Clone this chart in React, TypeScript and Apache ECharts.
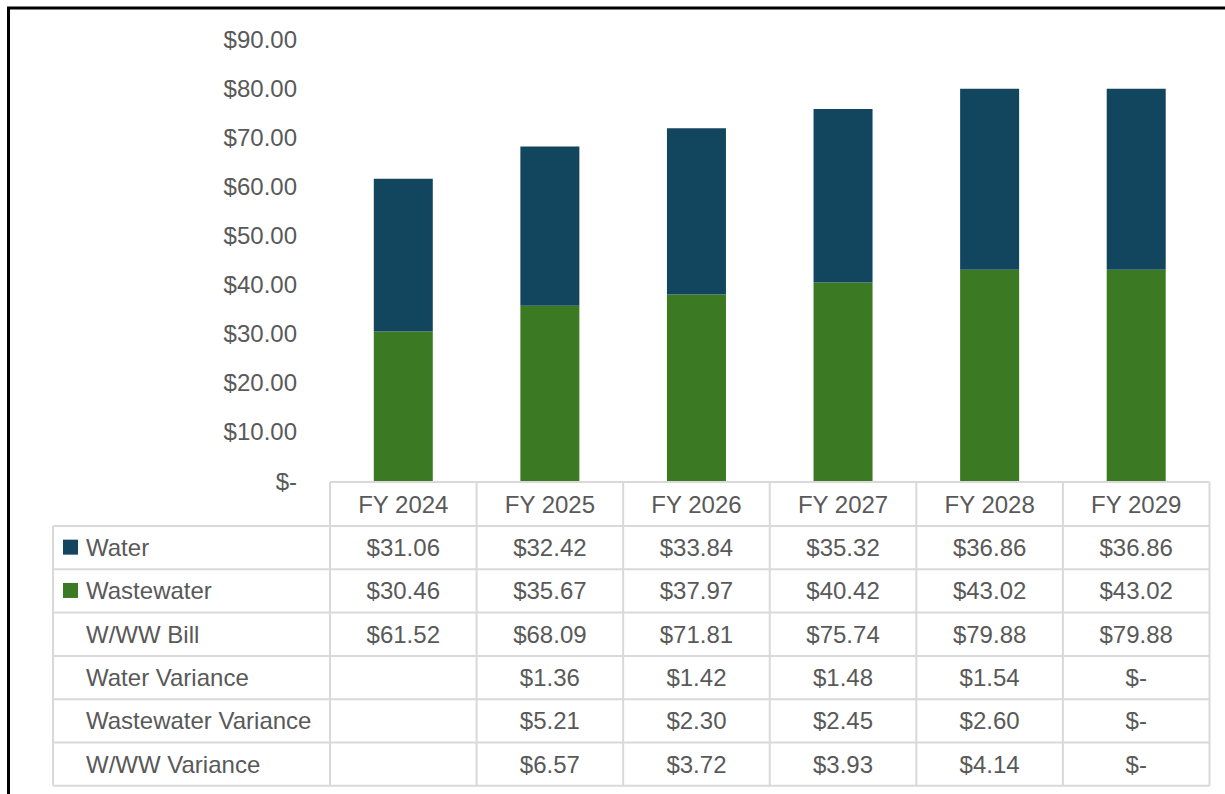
import React, { useEffect, useRef } from "react";
import * as echarts from "echarts";

const categories = ["FY 2024", "FY 2025", "FY 2026", "FY 2027", "FY 2028", "FY 2029"];
const water = [31.06, 32.42, 33.84, 35.32, 36.86, 36.86];
const wastewater = [30.46, 35.67, 37.97, 40.42, 43.02, 43.02];
const bill = [61.52, 68.09, 71.81, 75.74, 79.88, 79.88];
const waterVariance = [null, 1.36, 1.42, 1.48, 1.54, 0];
const wastewaterVariance = [null, 5.21, 2.3, 2.45, 2.6, 0];
const totalVariance = [null, 6.57, 3.72, 3.93, 4.14, 0];
const rowLabels = ["Water", "Wastewater", "W/WW Bill", "Water Variance", "Wastewater Variance", "W/WW Variance"];
const yMin = 0;
const yMax = 90;
const yInterval = 10;

const WATER_COLOR = "#12465F";
const WASTE_COLOR = "#3B7A23";
const TEXT_COLOR = "#595959";
const LINE_COLOR = "#D9D9D9";
const FONT = '"Liberation Sans", Arial, sans-serif';

const fmt = (v: number | null) => (v === null ? "" : v === 0 ? "$-" : "$" + v.toFixed(2));

export default function App() {
  const ref = useRef<HTMLDivElement>(null);
  useEffect(() => {
    document.body.style.margin = "0";
    if (!ref.current) return;
    const chart = echarts.init(ref.current, null, { renderer: "svg" });

    const gridLeft = 330;
    const gridRight = 1209.5;
    const gridTop = 39;
    const gridBottom = 481;
    const colW = (gridRight - gridLeft) / categories.length;
    const tableLeft = 53;
    const headerTop = 482;
    const rowTop = 526;
    const rowH = 43.3;

    const rows = [
      { label: rowLabels[0], values: water, swatch: WATER_COLOR },
      { label: rowLabels[1], values: wastewater, swatch: WASTE_COLOR },
      { label: rowLabels[2], values: bill, swatch: null },
      { label: rowLabels[3], values: waterVariance, swatch: null },
      { label: rowLabels[4], values: wastewaterVariance, swatch: null },
      { label: rowLabels[5], values: totalVariance, swatch: null },
    ];
    const tableBottom = rowTop + rowH * rows.length;

    const g: any[] = [];
    const lineStyle = { stroke: LINE_COLOR, lineWidth: 2 };
    // header top border
    g.push({ type: "line", shape: { x1: gridLeft, y1: headerTop, x2: gridRight, y2: headerTop }, style: lineStyle });
    // row lines
    for (let i = 0; i <= rows.length; i++) {
      const y = rowTop + rowH * i;
      g.push({ type: "line", shape: { x1: tableLeft, y1: y, x2: gridRight, y2: y }, style: lineStyle });
    }
    // left border
    g.push({ type: "line", shape: { x1: tableLeft, y1: rowTop, x2: tableLeft, y2: tableBottom }, style: lineStyle });
    // column lines
    for (let c = 0; c <= categories.length; c++) {
      const x = gridLeft + colW * c;
      g.push({ type: "line", shape: { x1: x, y1: headerTop, x2: x, y2: tableBottom }, style: lineStyle });
    }
    rows.forEach((r, i) => {
      const cy = rowTop + rowH * i + rowH / 2;
      if (r.swatch) {
        g.push({ type: "rect", shape: { x: 63, y: cy - 8, width: 15, height: 15 }, style: { fill: r.swatch } });
      }
      g.push({
        type: "text",
        style: { text: r.label, x: 86, y: cy, fill: TEXT_COLOR, fontSize: 24, fontFamily: FONT, align: "left", verticalAlign: "middle" },
      });
      r.values.forEach((v, c) => {
        g.push({
          type: "text",
          style: {
            text: fmt(v as number | null),
            x: gridLeft + colW * c + colW / 2,
            y: cy,
            fill: TEXT_COLOR,
            fontSize: 24,
            fontFamily: FONT,
            align: "center",
            verticalAlign: "middle",
          },
        });
      });
    });
    // outer frame (top and left)
    g.push({ type: "line", shape: { x1: 7, y1: 8, x2: 1225, y2: 8 }, style: { stroke: "#000", lineWidth: 3 } });
    g.push({ type: "line", shape: { x1: 8.5, y1: 7, x2: 8.5, y2: 794 }, style: { stroke: "#000", lineWidth: 3 } });

    chart.setOption({
      animation: false,
      backgroundColor: "#fff",
      grid: { left: gridLeft, right: 1225 - gridRight, top: gridTop, bottom: 794 - gridBottom, containLabel: false },
      xAxis: {
        type: "category",
        data: categories,
        axisLine: { show: false },
        axisTick: { show: false },
        axisLabel: { color: TEXT_COLOR, fontSize: 24, fontFamily: FONT, margin: 11, lineHeight: 24 },
      },
      yAxis: {
        type: "value",
        min: yMin,
        max: yMax,
        interval: yInterval,
        splitLine: { show: false },
        axisLine: { show: false },
        axisTick: { show: false },
        axisLabel: {
          color: TEXT_COLOR,
          fontSize: 24,
          fontFamily: FONT,
          margin: 33,
          formatter: (v: number) => (v === 0 ? "$-" : "$" + v.toFixed(2)),
        },
      },
      series: [
        { name: "Wastewater", type: "bar", stack: "bill", data: wastewater, barWidth: 59, itemStyle: { color: WASTE_COLOR } },
        { name: "Water", type: "bar", stack: "bill", data: water, barWidth: 59, itemStyle: { color: WATER_COLOR } },
      ],
      graphic: g,
    });
    return () => chart.dispose();
  }, []);
  return <div ref={ref} style={{ width: 1225, height: 794 }} />;
}
